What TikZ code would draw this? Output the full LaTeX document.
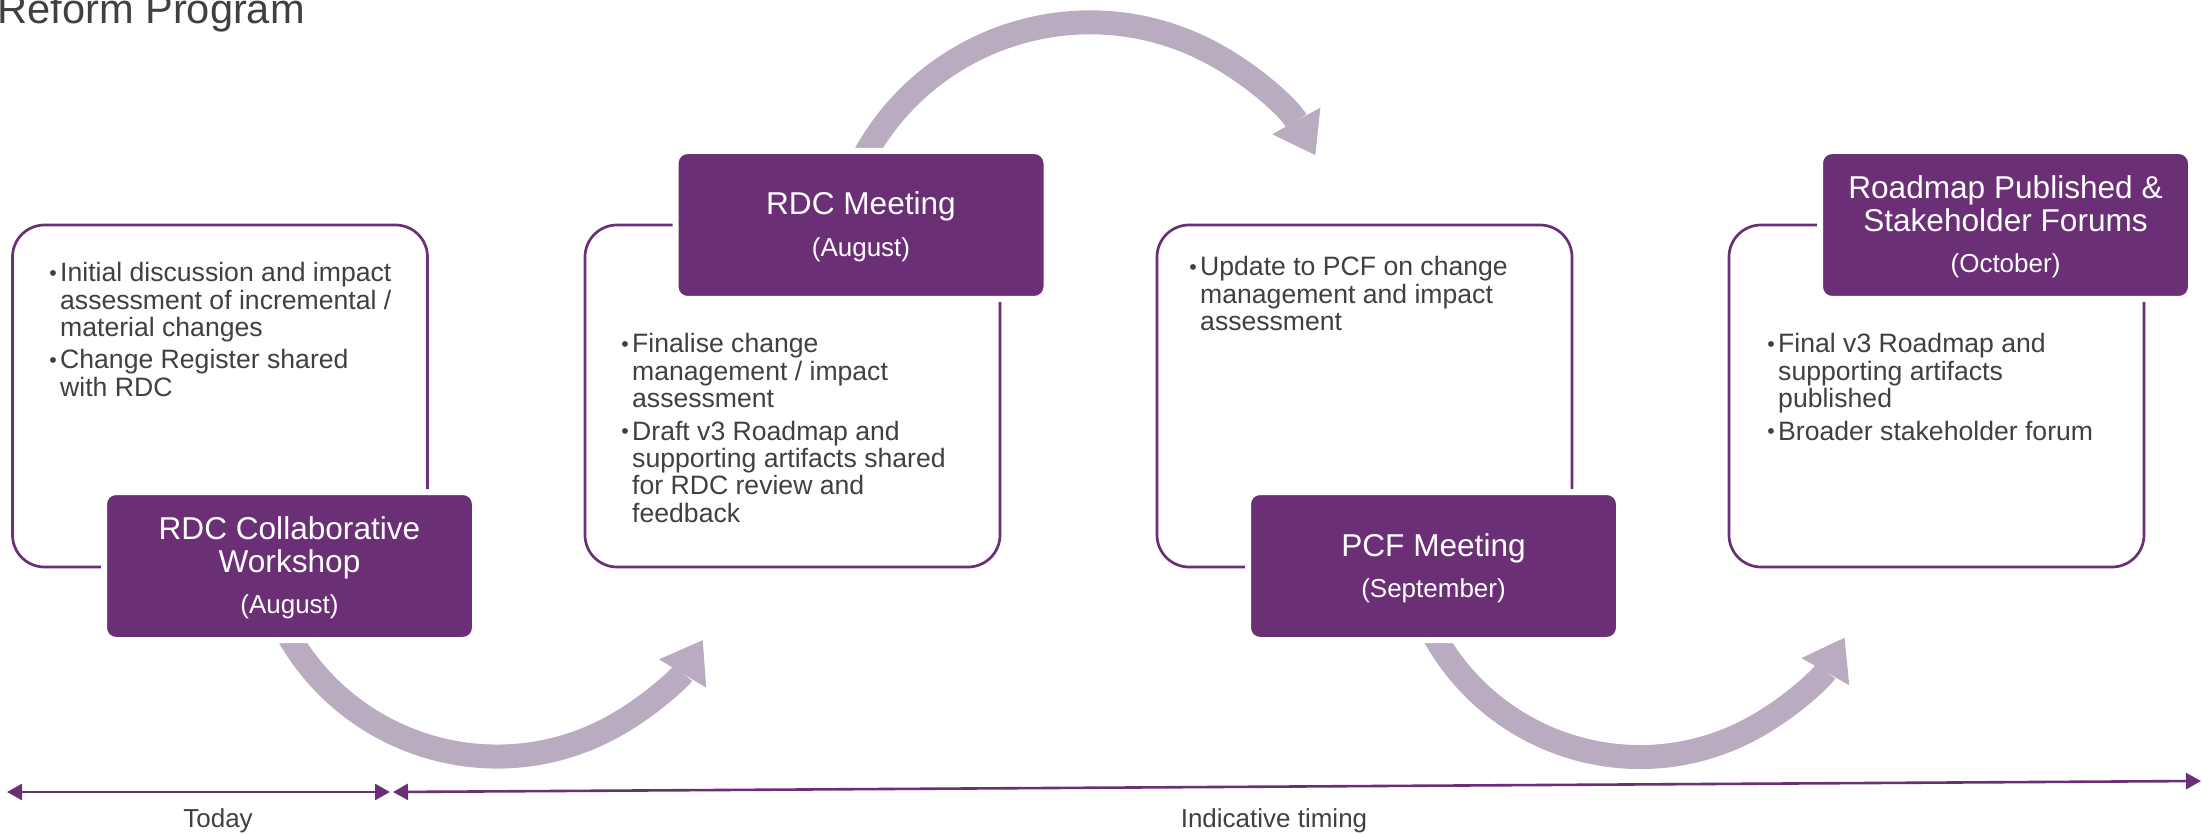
\documentclass[tikz,border=0pt]{standalone}
\usepackage{fontspec}
\setmainfont{Liberation Sans}
\usetikzlibrary{arrows.meta,calc}
\definecolor{rpurple}{HTML}{6B2F76}
\definecolor{rband}{HTML}{BAACC0}
\definecolor{rtext}{HTML}{404040}
\newcommand\rbody{\fontsize{13.3pt}{13.65pt}\selectfont}
\newcommand\rhead{\fontsize{15.8pt}{16.5pt}\selectfont}
\newcommand\rdate{\fontsize{13pt}{15pt}\selectfont}
\newcommand\rdot{\makebox[5.4pt][l]{\raisebox{0.8pt}{\scalebox{0.8}{•}}}}
\newcommand\rbl[1]{\hbox{\rdot#1}}
\newcommand\rcl[1]{\hbox{\hspace*{5.4pt}#1}}
\newcommand\rpt[1]{\raisebox{-2pt}[\height][\depth]{\begin{tabular}{@{}c@{}}#1\end{tabular}}}
\pgfdeclarelayer{bg}
\pgfsetlayers{bg,main}
\begin{document}
\begin{tikzpicture}[x=0.5pt,y=-0.5pt,
  wbox/.style={draw=rpurple, line width=1.35pt, fill=white, rounded corners=16pt,
    minimum width=207.5pt, minimum height=171pt, inner sep=0pt, outer sep=0pt},
  pbox/.style={draw=white, line width=3pt, fill=rpurple, rounded corners=6pt,
    minimum width=185.5pt, minimum height=74pt, inner sep=0pt, outer sep=0pt,
    text=white, font=\rhead},
  btext/.style={anchor=base west, inner sep=0pt, text=rtext, font=\rbody},
  lbl/.style={anchor=base, inner sep=0pt, text=rtext, font=\rdate},
  band/.style={draw=rband, line width=12pt,
    -{Triangle[length=19.5pt,width=27.5pt,line width=0pt]}},
  tline/.style={draw=rpurple, line width=1.3pt,
    >={Triangle[length=7.5pt,width=8pt]}, <->}
]
\useasboundingbox (0,0) rectangle (2202,834);

% title
\node[anchor=base west, inner sep=0pt, text=rtext,
  font=\fontsize{20.8pt}{24pt}\selectfont] (title) at (-3,24) {Reform Program};

% white boxes
\node[wbox] (w1) at (220,396) {};
\node[wbox] (w2) at (792.5,396) {};
\node[wbox] (w3) at (1364.5,396) {};
\node[wbox] (w4) at (1936.5,396) {};

% purple boxes
\node[pbox] (p1) at (289.5,566) {\rpt{RDC Collaborative\\Workshop\\[4.1pt]\rdate (August)}};
\node[pbox] (p2) at (861,225) {\rpt{RDC Meeting\\[4.1pt]\rdate (August)}};
\node[pbox] (p3) at (1433.5,566) {\rpt{PCF Meeting\\[4.1pt]\rdate (September)}};
\node[pbox] (p4) at (2005.5,225) {\rpt{Roadmap Published \&\\Stakeholder Forums\\[4.1pt]\rdate (October)}};

% bullet texts
\node[btext] (t1) at (49,282) {\vtop{\rbl{Initial discussion and impact}\rcl{assessment of incremental /}\rcl{material changes}\vskip2.5pt\rbl{Change Register shared}\rcl{with RDC}}};
\node[btext] (t2) at (621,353) {\vtop{\rbl{Finalise change}\rcl{management / impact}\rcl{assessment}\vskip2.7pt\rbl{Draft v3 Roadmap and}\rcl{supporting artifacts shared}\rcl{for RDC review and}\rcl{feedback}}};
\node[btext] (t3) at (1189,276) {\vtop{\rbl{Update to PCF on change}\rcl{management and impact}\rcl{assessment}}};
\node[btext] (t4) at (1767,353) {\vtop{\rbl{Final v3 Roadmap and}\rcl{supporting artifacts}\rcl{published}\vskip2.7pt\rbl{Broader stakeholder forum}}};

% curved band arrows
\begin{pgfonlayer}{bg}
\draw[band] ($(p1.south)+(-4.4,-10.8)$) arc[start angle=152, end angle=31, radius=240];
\draw[band] ($(p2.north)+(-2.4,16)$) arc[start angle=206, end angle=331, radius=257.5];
\draw[band] ($(p3.south)+(-2.9,-11.3)$) arc[start angle=153, end angle=29.5, radius=235];
\end{pgfonlayer}

% timeline
\coordinate (a1) at (7,792);
\coordinate (a2) at (390,792);
\coordinate (b1) at (393,792);
\coordinate (b2) at (2201,781);
\draw[tline] (a1) -- (a2);
\draw[tline] (b1) -- (b2);
\node[lbl] (today) at (218,827) {Today};
\node[lbl] (indic) at (1274,827) {Indicative timing};
\end{tikzpicture}
\end{document}
